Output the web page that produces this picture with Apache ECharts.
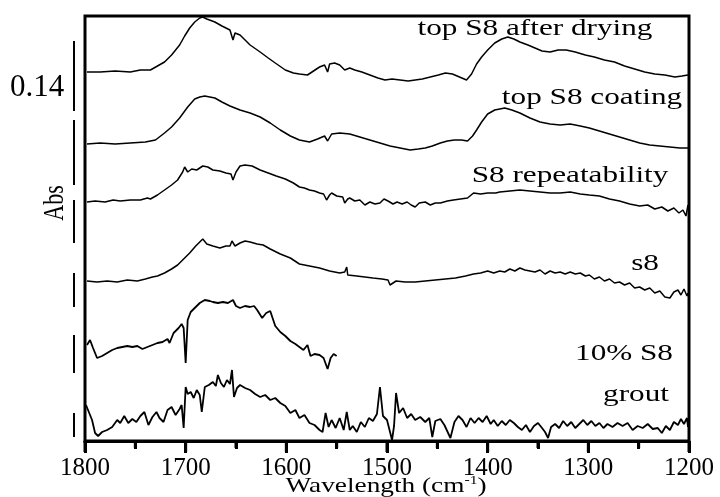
<!DOCTYPE html>
<html>
<head>
<meta charset="utf-8">
<style>
  html, body { margin: 0; padding: 0; background: #fff; }
  #chart { width: 720px; height: 497px; }
</style>
<script src="https://cdn.jsdelivr.net/npm/echarts/dist/echarts.min.js"></script>
</head>
<body>
<div id="chart"></div>
<script>
// Offset FTIR absorbance spectra, [wavenumber (cm-1), absorbance + offset]
const topS8AfterDrying = [
  [1798,0.738],[1785,0.738],[1770,0.740],[1755,0.738],[1745,0.742],[1735,0.742],[1728,0.750],
  [1721,0.758],[1714,0.772],[1706,0.792],[1701,0.810],[1696,0.826],[1691,0.838],[1686,0.846],
  [1683,0.848],[1679,0.844],[1671,0.838],[1664,0.830],[1656,0.822],[1653,0.802],[1651,0.816],
  [1646,0.812],[1636,0.792],[1626,0.778],[1618,0.766],[1611,0.756],[1601,0.742],[1593,0.736],
  [1587,0.734],[1579,0.732],[1573,0.740],[1567,0.748],[1562,0.752],[1559,0.738],[1557,0.754],
  [1552,0.756],[1547,0.752],[1542,0.742],[1537,0.746],[1532,0.742],[1525,0.738],[1517,0.732],
  [1509,0.726],[1502,0.722],[1495,0.724],[1487,0.722],[1479,0.720],[1472,0.722],[1465,0.724],
  [1457,0.728],[1449,0.732],[1442,0.736],[1435,0.734],[1428,0.728],[1421,0.722],[1416,0.734],
  [1411,0.754],[1406,0.768],[1400,0.782],[1393,0.796],[1386,0.804],[1380,0.808],[1374,0.804],
  [1368,0.798],[1360,0.792],[1353,0.786],[1346,0.780],[1338,0.778],[1330,0.782],[1322,0.782],
  [1313,0.778],[1303,0.772],[1294,0.768],[1284,0.762],[1274,0.758],[1264,0.750],[1254,0.744],
  [1244,0.738],[1234,0.734],[1224,0.732],[1214,0.728],[1207,0.730],[1201,0.732]
];

const topS8Coating = [
  [1798,0.594],[1785,0.596],[1770,0.594],[1755,0.596],[1740,0.598],[1730,0.602],[1721,0.616],
  [1714,0.628],[1706,0.646],[1698,0.668],[1691,0.684],[1686,0.688],[1681,0.690],[1676,0.688],
  [1671,0.686],[1664,0.678],[1656,0.670],[1651,0.666],[1646,0.662],[1636,0.656],[1626,0.648],
  [1616,0.636],[1606,0.622],[1596,0.610],[1587,0.602],[1577,0.598],[1569,0.604],[1562,0.610],
  [1559,0.600],[1555,0.614],[1547,0.616],[1537,0.614],[1527,0.608],[1517,0.602],[1507,0.596],
  [1497,0.590],[1487,0.586],[1477,0.582],[1469,0.584],[1462,0.586],[1455,0.590],[1447,0.596],
  [1440,0.600],[1433,0.602],[1426,0.602],[1420,0.600],[1415,0.610],[1411,0.622],[1406,0.638],
  [1400,0.654],[1393,0.662],[1388,0.664],[1383,0.666],[1376,0.662],[1368,0.656],[1358,0.646],
  [1348,0.638],[1338,0.634],[1328,0.632],[1318,0.634],[1308,0.630],[1299,0.626],[1289,0.620],
  [1279,0.614],[1269,0.608],[1259,0.602],[1249,0.596],[1239,0.592],[1229,0.590],[1219,0.588],
  [1209,0.586],[1201,0.586]
];

const s8Repeatability = [
  [1798,0.478],[1790,0.480],[1780,0.478],[1772,0.482],[1765,0.480],[1755,0.482],[1745,0.482],
  [1738,0.486],[1735,0.484],[1728,0.492],[1721,0.502],[1714,0.512],[1708,0.522],[1703,0.538],
  [1701,0.548],[1698,0.538],[1694,0.544],[1689,0.542],[1683,0.550],[1678,0.548],[1673,0.542],
  [1666,0.540],[1660,0.536],[1655,0.534],[1653,0.522],[1650,0.538],[1646,0.550],[1641,0.552],
  [1634,0.550],[1626,0.542],[1618,0.536],[1610,0.530],[1601,0.524],[1593,0.516],[1587,0.508],
  [1582,0.506],[1577,0.502],[1572,0.500],[1567,0.496],[1563,0.494],[1560,0.482],[1557,0.492],
  [1555,0.496],[1550,0.490],[1544,0.488],[1542,0.476],[1539,0.484],[1537,0.486],[1532,0.480],
  [1527,0.482],[1522,0.472],[1517,0.478],[1512,0.474],[1507,0.476],[1503,0.484],[1499,0.480],
  [1494,0.474],[1490,0.478],[1485,0.474],[1480,0.478],[1476,0.472],[1472,0.468],[1468,0.476],
  [1462,0.478],[1457,0.472],[1452,0.476],[1447,0.476],[1440,0.480],[1434,0.482],[1427,0.484],
  [1420,0.486],[1414,0.496],[1407,0.494],[1400,0.496],[1392,0.496],[1388,0.498],[1378,0.500],
  [1368,0.502],[1358,0.500],[1348,0.498],[1338,0.496],[1328,0.496],[1318,0.498],[1308,0.494],
  [1299,0.492],[1289,0.490],[1279,0.484],[1269,0.480],[1259,0.474],[1249,0.470],[1241,0.472],
  [1234,0.464],[1227,0.468],[1221,0.460],[1215,0.466],[1210,0.456],[1206,0.462],[1203,0.450],
  [1201,0.472]
];

const s8 = [
  [1798,0.320],[1788,0.318],[1778,0.320],[1768,0.318],[1758,0.322],[1748,0.320],[1740,0.324],
  [1733,0.328],[1728,0.330],[1721,0.336],[1714,0.344],[1708,0.352],[1701,0.366],[1696,0.376],
  [1690,0.390],[1686,0.398],[1683,0.404],[1679,0.394],[1673,0.390],[1666,0.386],[1660,0.390],
  [1656,0.390],[1654,0.400],[1651,0.390],[1646,0.396],[1641,0.400],[1636,0.398],[1629,0.394],
  [1623,0.392],[1616,0.384],[1606,0.374],[1596,0.366],[1587,0.354],[1577,0.350],[1567,0.346],
  [1557,0.340],[1547,0.336],[1542,0.338],[1540,0.348],[1539,0.332],[1530,0.330],[1522,0.328],
  [1514,0.326],[1505,0.324],[1499,0.322],[1497,0.312],[1491,0.320],[1482,0.318],[1472,0.318],
  [1462,0.320],[1452,0.322],[1442,0.324],[1432,0.326],[1422,0.330],[1414,0.334],[1407,0.336],
  [1400,0.340],[1394,0.336],[1388,0.340],[1383,0.338],[1378,0.344],[1373,0.340],[1368,0.346],
  [1363,0.342],[1358,0.340],[1353,0.338],[1348,0.342],[1343,0.334],[1338,0.340],[1333,0.336],
  [1328,0.338],[1323,0.334],[1318,0.338],[1313,0.334],[1308,0.336],[1303,0.330],[1299,0.332],
  [1294,0.324],[1289,0.328],[1284,0.320],[1279,0.324],[1274,0.316],[1269,0.318],[1264,0.312],
  [1259,0.316],[1254,0.306],[1249,0.308],[1244,0.302],[1239,0.306],[1234,0.296],[1229,0.300],
  [1224,0.288],[1219,0.286],[1215,0.298],[1211,0.302],[1208,0.292],[1205,0.304],[1202,0.290],
  [1201,0.296]
];

const tenPercentS8 = [
  [1798,0.192],[1795,0.202],[1792,0.186],[1788,0.166],[1783,0.170],[1778,0.176],[1773,0.182],
  [1768,0.186],[1763,0.188],[1758,0.190],[1753,0.188],[1748,0.190],[1743,0.184],[1738,0.188],
  [1733,0.192],[1728,0.196],[1723,0.198],[1718,0.204],[1716,0.196],[1712,0.216],[1707,0.226],
  [1704,0.234],[1702,0.226],[1700,0.156],[1698,0.242],[1695,0.258],[1691,0.266],[1686,0.276],
  [1681,0.282],[1676,0.280],[1673,0.278],[1668,0.276],[1663,0.278],[1658,0.276],[1653,0.282],
  [1650,0.270],[1646,0.266],[1641,0.270],[1636,0.268],[1632,0.270],[1629,0.262],[1624,0.246],
  [1620,0.256],[1616,0.260],[1611,0.230],[1606,0.218],[1601,0.210],[1596,0.200],[1591,0.194],
  [1587,0.188],[1583,0.182],[1579,0.192],[1576,0.170],[1572,0.174],[1567,0.172],[1563,0.166],
  [1559,0.144],[1556,0.166],[1553,0.174],[1550,0.170]
];

const grout = [
  [1799,0.072],[1797,0.062],[1793,0.042],[1790,0.016],[1787,0.010],[1783,0.018],[1778,0.022],
  [1773,0.028],[1768,0.042],[1765,0.036],[1761,0.050],[1757,0.036],[1753,0.044],[1749,0.038],
  [1745,0.050],[1741,0.058],[1737,0.032],[1733,0.048],[1729,0.058],[1726,0.046],[1722,0.038],
  [1718,0.062],[1714,0.068],[1710,0.052],[1706,0.064],[1704,0.072],[1702,0.026],[1700,0.108],
  [1698,0.094],[1695,0.098],[1692,0.086],[1689,0.102],[1686,0.092],[1684,0.058],[1681,0.108],
  [1677,0.112],[1673,0.118],[1670,0.110],[1668,0.132],[1665,0.116],[1662,0.108],[1659,0.122],
  [1656,0.114],[1654,0.142],[1652,0.088],[1649,0.106],[1646,0.112],[1641,0.106],[1636,0.102],
  [1631,0.094],[1626,0.088],[1621,0.092],[1616,0.082],[1611,0.086],[1606,0.076],[1601,0.070],
  [1596,0.056],[1591,0.062],[1587,0.046],[1582,0.052],[1577,0.036],[1572,0.032],[1567,0.022],
  [1564,0.018],[1561,0.056],[1558,0.028],[1555,0.042],[1551,0.026],[1547,0.046],[1543,0.022],
  [1540,0.058],[1537,0.022],[1534,0.030],[1530,0.018],[1526,0.038],[1522,0.028],[1518,0.046],
  [1514,0.040],[1510,0.054],[1507,0.108],[1504,0.050],[1500,0.042],[1497,0.018],[1495,0.002],
  [1493,0.030],[1491,0.096],[1488,0.056],[1484,0.066],[1480,0.046],[1476,0.054],[1472,0.042],
  [1467,0.048],[1462,0.038],[1458,0.046],[1455,0.008],[1452,0.040],[1447,0.044],[1443,0.032],
  [1437,0.006],[1433,0.038],[1429,0.050],[1425,0.042],[1421,0.028],[1417,0.046],[1413,0.036],
  [1409,0.046],[1405,0.038],[1401,0.050],[1397,0.034],[1394,0.042],[1390,0.030],[1386,0.040],
  [1382,0.032],[1378,0.042],[1374,0.036],[1370,0.028],[1366,0.022],[1362,0.032],[1358,0.018],
  [1354,0.030],[1350,0.036],[1346,0.026],[1343,0.018],[1340,0.006],[1337,0.028],[1333,0.034],
  [1329,0.026],[1325,0.040],[1321,0.030],[1317,0.038],[1313,0.026],[1309,0.034],[1305,0.042],
  [1301,0.032],[1297,0.040],[1293,0.030],[1289,0.036],[1285,0.026],[1281,0.034],[1276,0.028],
  [1271,0.036],[1266,0.030],[1261,0.036],[1256,0.022],[1251,0.030],[1246,0.026],[1241,0.034],
  [1236,0.024],[1231,0.026],[1227,0.016],[1223,0.030],[1219,0.022],[1215,0.038],[1211,0.032],
  [1208,0.044],[1205,0.034],[1202,0.046],[1201,0.028]
];

const seriesNames = ['top S8 after drying', 'top S8 coating', 'S8 repeatability', 's8', '10% S8', 'grout'];
const seriesData = [topS8AfterDrying, topS8Coating, s8Repeatability, s8, tenPercentS8, grout];

// Major and minor wavenumber ticks along the bottom axis
const majorTicks = [1800, 1700, 1600, 1500, 1400, 1300, 1200];
const minorTicks = [1750, 1650, 1550, 1450, 1350, 1250];

// Absorbance scale bar (0.14 Abs) and the broken guide below it, as [from, to] in absorbance
const scaleBarSegments = [[0.800, 0.660], [0.642, 0.512], [0.482, 0.396], [0.336, 0.268], [0.212, 0.136], [0.056, 0.008]];
const scaleBarLabel = '0.14';

const serif = '"Liberation Serif", "Times New Roman", serif';

const chart = echarts.init(document.getElementById('chart'), null, { renderer: 'canvas' });

const option = {
  animation: false,
  backgroundColor: '#ffffff',
  grid: {
    left: 85, right: 31, top: 16, bottom: 56,
    show: true, borderColor: '#000', borderWidth: 3, backgroundColor: 'transparent'
  },
  xAxis: {
    type: 'value',
    min: 1200, max: 1800, interval: 100,
    inverse: true,
    axisLine: { show: true, onZero: false, lineStyle: { color: '#000', width: 3 } },
    axisTick: { show: true, length: 12, lineStyle: { color: '#000', width: 3 } },
    minorTick: { show: true, splitNumber: 2, length: 8, lineStyle: { color: '#000', width: 3 } },
    splitLine: { show: false },
    axisLabel: {
      color: '#000', fontFamily: serif, fontSize: 25, margin: 15,
      formatter: v => String(v)
    }
  },
  yAxis: {
    type: 'value', min: 0, max: 0.85, show: false, splitLine: { show: false }
  },
  series: seriesData.map((d, i) => ({
    name: seriesNames[i],
    type: 'line',
    data: d,
    showSymbol: false,
    symbol: 'none',
    lineStyle: { color: '#000', width: i >= 4 ? 1.8 : 1.5 },
    z: 3
  }))
};

chart.setOption(option);

// Annotations: spectrum names, axis title and absorbance scale
const textBase = { fill: '#000', font: '24px ' + serif, align: 'center', verticalAlign: 'middle' };
const labelSpots = [
  { text: seriesNames[0], x: 535, y: 29 },
  { text: seriesNames[1], x: 592, y: 98 },
  { text: seriesNames[2], x: 570, y: 176 },
  { text: seriesNames[3], x: 645, y: 264 },
  { text: seriesNames[4], x: 624, y: 354 },
  { text: seriesNames[5], x: 636, y: 395 }
];

const graphics = labelSpots.map(l => ({
  type: 'text', x: l.x, y: l.y, scaleX: 1.3, z: 10,
  style: Object.assign({}, textBase, { text: l.text })
}));

graphics.push({
  type: 'text', x: 386, y: 486, scaleX: 1.3, z: 10,
  style: {
    text: '{a|Wavelength (cm}{s|-1}{a|)}',
    align: 'center', verticalAlign: 'middle',
    rich: {
      a: { fontFamily: serif, fontSize: 21, fill: '#000', color: '#000', lineHeight: 22 },
      s: { fontFamily: serif, fontSize: 12, fill: '#000', color: '#000', verticalAlign: 'top', lineHeight: 22, padding: [0, 0, 12, 0] }
    }
  }
});

graphics.push({
  type: 'text', x: 55, y: 203, rotation: Math.PI / 2, scaleY: 1.3, z: 10,
  style: { text: 'Abs', fill: '#000', font: '22px ' + serif, align: 'center', verticalAlign: 'middle' }
});

graphics.push({
  type: 'text', x: 37, y: 88, z: 10,
  style: { text: scaleBarLabel, fill: '#000', font: '31px ' + serif, align: 'center', verticalAlign: 'middle' }
});

const barX = 74;
scaleBarSegments.forEach(seg => {
  const y1 = chart.convertToPixel({ gridIndex: 0 }, [1800, seg[0]])[1];
  const y2 = chart.convertToPixel({ gridIndex: 0 }, [1800, seg[1]])[1];
  graphics.push({
    type: 'line', z: 10,
    shape: { x1: barX, y1: y1, x2: barX, y2: y2 },
    style: { stroke: '#000', lineWidth: 2 }
  });
});

// Outward tick marks placed through the axis scale
const axisY = chart.convertToPixel({ gridIndex: 0 }, [1800, 0])[1];
const addTick = (v, len) => {
  const px = chart.convertToPixel({ gridIndex: 0 }, [v, 0])[0];
  graphics.push({
    type: 'line', z: 10,
    shape: { x1: px, y1: axisY, x2: px, y2: axisY + len },
    style: { stroke: '#000', lineWidth: 3 }
  });
};
majorTicks.forEach(v => addTick(v, 11));
minorTicks.forEach(v => addTick(v, 7));

chart.setOption({ graphic: graphics });
</script>
</body>
</html>
